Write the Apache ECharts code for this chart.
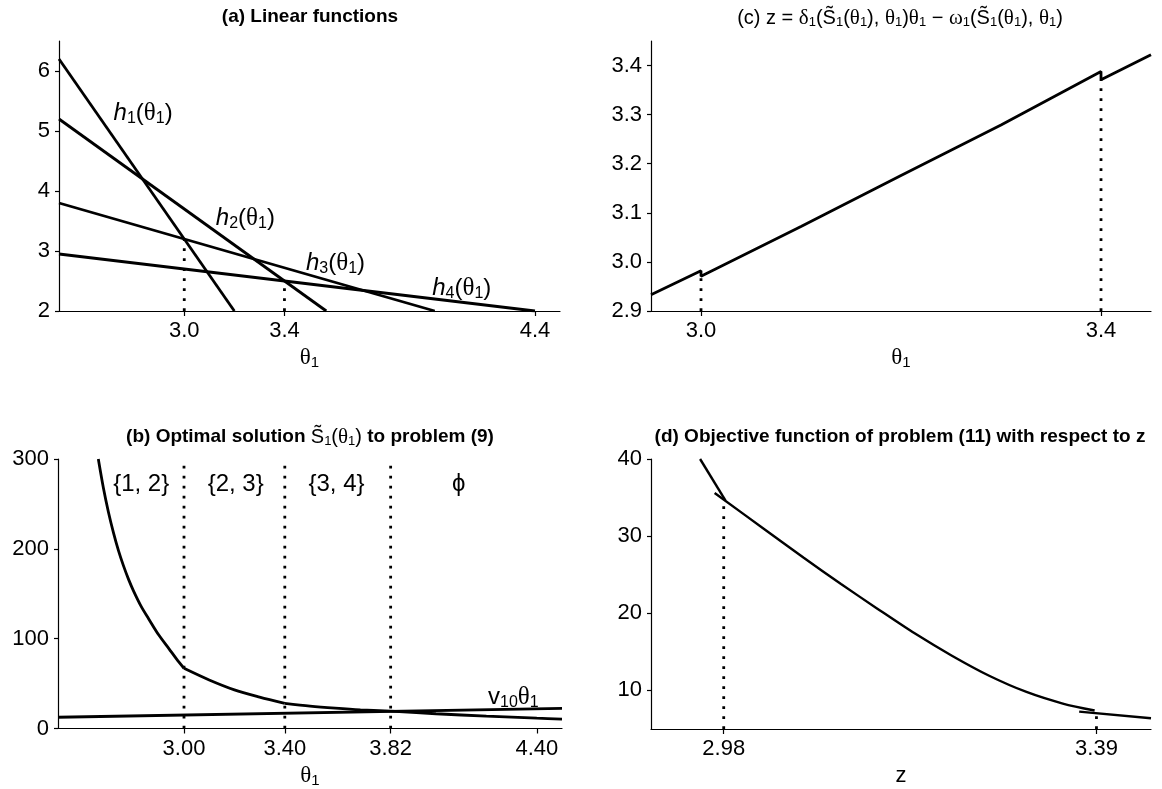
<!DOCTYPE html>
<html>
<head>
<meta charset="utf-8">
<script src="https://cdn.jsdelivr.net/npm/echarts@6/dist/echarts.min.js"></script>
<style>
html, body { margin: 0; padding: 0; background: #fff; }
#main { width: 1162px; height: 789px; }
</style>
</head>
<body>
<div id="main"></div>
<script>
// ---- data ----
// (a) linear functions h_k(theta1)
var thetaTicksA = [3.0, 3.4, 4.4];
var yTicksA = [2, 3, 4, 5, 6];
var h1 = [[2.5, 6.2], [3.2, 2.0]];
var h2 = [[2.5, 5.2], [3.567, 2.0]];
var h3 = [[2.5, 3.8], [4.0, 2.0]];
var h4 = [[2.5, 2.95], [4.4, 2.0]];
var breaksA = [[3.0, 3.2], [3.4, 2.5]];   // theta, top of dotted line

// (b) optimal solution S1(theta1), one array per region
var s1Seg1 = [[2.66, 300], [2.68, 268], [2.70, 241], [2.72, 218], [2.74, 198], [2.76, 181], [2.78, 166],
              [2.80, 153], [2.83, 136], [2.86, 122], [2.90, 104], [2.94, 89], [2.97, 77.5], [3.00, 67]];
var s1Seg2 = [[3.00, 67], [3.10, 54], [3.20, 43], [3.30, 35], [3.40, 28]];
var s1Seg3 = [[3.40, 28], [3.50, 25], [3.60, 22.7], [3.70, 20.8], [3.82, 19.3]];
var s1Seg4 = [[3.82, 19.3], [4.00, 16.4], [4.20, 13.8], [4.40, 11.5], [4.50, 10.4]];
var thetaTicksB = [3.00, 3.40, 3.82, 4.40];
var yTicksB = [0, 100, 200, 300];
var v10Line = [[2.5, 12.5], [4.5, 22.5]];
var breaksB = [3.00, 3.40, 3.82];
var setLabels = ['{1, 2}', '{2, 3}', '{3, 4}', 'ϕ'];
var setLabelTheta = [2.83, 3.205, 3.605, 4.09];

// (c) z as a function of theta1 (jumps at 3.0 and 3.4)
var thetaTicksC = [3.0, 3.4];
var yTicksC = [2.9, 3.0, 3.1, 3.2, 3.3, 3.4];
var zSeg1 = [[2.95, 2.933], [3.0, 2.982]];
var zSeg2 = [[3.0, 2.971], [3.1, 3.072], [3.2, 3.176], [3.3, 3.279], [3.4, 3.388]];
var zSeg3 = [[3.4, 3.371], [3.45, 3.422]];
var breaksC = [[3.0, 2.971], [3.4, 3.371]];

// (d) objective of problem (11) vs z
var zTicksD = [2.98, 3.39];
var yTicksD = [10, 20, 30, 40];
var objSeg1 = [[2.954, 40], [2.982, 34.6]];
var objSeg2 = [[2.970, 35.6], [3.027, 30.7], [3.068, 27.2], [3.109, 23.8], [3.149, 20.6], [3.190, 17.4],
               [3.231, 14.5], [3.272, 11.9], [3.313, 9.8], [3.353, 8.3], [3.388, 7.4]];
var objSeg3 = [[3.371, 7.25], [3.45, 6.4]];
var breaksD = [[2.98, 34.5], [3.39, 7.3]];

// ---- styles ----
var SANS = 'Liberation Sans';
var SERIF = 'Liberation Serif';
var richBig = {
    n: { fontFamily: SANS, fontSize: 24, color: '#000', lineHeight: 26 },
    i: { fontFamily: SANS, fontSize: 24, fontStyle: 'italic', color: '#000', lineHeight: 26 },
    g: { fontFamily: SERIF, fontSize: 25, color: '#000', lineHeight: 26 },
    s: { fontFamily: SANS, fontSize: 16, color: '#000', lineHeight: 17, padding: [11, 0, 0, 0] }
};
var richName = {
    n: { fontFamily: SANS, fontSize: 22, color: '#000', lineHeight: 24 },
    g: { fontFamily: SERIF, fontSize: 23, color: '#000', lineHeight: 24 },
    s: { fontFamily: SANS, fontSize: 15, color: '#000', lineHeight: 16, padding: [10, 0, 0, 0] }
};
var richTitle = {
    b: { fontFamily: SANS, fontSize: 19, fontWeight: 'bold', color: '#000', lineHeight: 20 },
    r: { fontFamily: SANS, fontSize: 20, color: '#000', lineHeight: 22 },
    rg: { fontFamily: SERIF, fontSize: 21, color: '#000', lineHeight: 22 },
    rs: { fontFamily: SANS, fontSize: 13, color: '#000', lineHeight: 14, padding: [8, 0, 0, 0] }
};

var grids = [
    { left: 59, top: 41, width: 501, height: 270 },   // a
    { left: 58, top: 459, width: 504, height: 270 },  // b
    { left: 651, top: 41, width: 500, height: 270 },  // c
    { left: 651, top: 459, width: 500, height: 270 }  // d
];

function xAx(idx, min, max, ticks, dec, name) {
    return {
        gridIndex: idx, type: 'value', min: min, max: max,
        axisLine: { show: true, onZero: false, lineStyle: { color: '#000', width: 1.2 } },
        axisTick: { show: true, customValues: ticks, length: 5, lineStyle: { color: '#000', width: 1.2 } },
        axisLabel: { customValues: ticks, formatter: function (v) { return v.toFixed(dec); },
                     fontFamily: SANS, fontSize: 22, color: '#000', margin: 9 },
        splitLine: { show: false },
        name: name, nameLocation: 'middle', nameGap: 35, nameTextStyle: { rich: richName }
    };
}
function yAx(idx, min, max, ticks, dec) {
    return {
        gridIndex: idx, type: 'value', min: min, max: max,
        axisLine: { show: true, onZero: false, lineStyle: { color: '#000', width: 1.2 } },
        axisTick: { show: true, customValues: ticks, length: 4, lineStyle: { color: '#000', width: 1.2 } },
        axisLabel: { customValues: ticks, formatter: function (v) { return v.toFixed(dec); },
                     fontFamily: SANS, fontSize: 22, color: '#000', margin: 9 },
        splitLine: { show: false }
    };
}

function solid(idx, data, w, smooth) {
    return { type: 'line', xAxisIndex: idx, yAxisIndex: idx, data: data, symbol: 'none',
             smooth: smooth || false,
             lineStyle: { color: '#000', width: w || 2.8 }, silent: true };
}
function dotted(idx, x, y0, y1) {
    return { type: 'line', xAxisIndex: idx, yAxisIndex: idx, data: [[x, y0], [x, y1]], symbol: 'none',
             lineStyle: { color: '#000', width: 2.8, type: [2.8, 7.2], cap: 'butt' }, silent: true };
}
function labels(idx, items) {
    return { type: 'scatter', xAxisIndex: idx, yAxisIndex: idx, symbolSize: 0, silent: true,
             itemStyle: { opacity: 1 },
             data: items, label: { show: true, position: 'inside', rich: richBig, opacity: 1,
             fontFamily: SANS, fontSize: 24, color: '#000', formatter: function (p) { return p.name; } } };
}

var series = [];
// (a)
[h1, h2, h3, h4].forEach(function (d) { series.push(solid(0, d)); });
breaksA.forEach(function (b) { series.push(dotted(0, b[0], 2, b[1])); });
series.push(labels(0, [
    { name: '{i|h}{s|1}{n|(}{g|θ}{s|1}{n|)}', value: [2.836, 5.3] },
    { name: '{i|h}{s|2}{n|(}{g|θ}{s|1}{n|)}', value: [3.244, 3.55] },
    { name: '{i|h}{s|3}{n|(}{g|θ}{s|1}{n|)}', value: [3.604, 2.8] },
    { name: '{i|h}{s|4}{n|(}{g|θ}{s|1}{n|)}', value: [4.108, 2.38] }
]));
// (b)
breaksB.forEach(function (b) { series.push(dotted(1, b, 0, 300)); });
[s1Seg1, s1Seg2, s1Seg3, s1Seg4].forEach(function (d) { series.push(solid(1, d, 2.8, 0.3)); });
series.push(solid(1, v10Line));
series.push(labels(1, setLabels.map(function (s, k) {
    return { name: s, value: [setLabelTheta[k], 272] };
}).concat([{ name: '{n|v}{s|10}{g|θ}{s|1}', value: [4.307, 35] }])));
// (c): the jumps are drawn as short vertical steps
breaksC.forEach(function (b) { series.push(dotted(2, b[0], 2.9, b[1])); });
series.push(solid(2, zSeg1.concat(zSeg2, zSeg3)));
// (d)
breaksD.forEach(function (b) { series.push(dotted(3, b[0], 5, b[1])); });
series.push(solid(3, objSeg1, 2.4));
series.push(solid(3, objSeg2, 2.4, 0.3));
series.push(solid(3, objSeg3, 2.4));

var titles = [
    { x: 310, y: 17, text: '{b|(a) Linear functions}' },
    { x: 310, y: 437, text: '{b|(b) Optimal solution }{r|S\u0303}{rs|1}{r|(}{rg|θ}{rs|1}{r|)}{b| to problem (9)}' },
    { x: 900, y: 18, text: '{r|(c) z = }{rg|δ}{rs|1}{r|(S\u0303}{rs|1}{r|(}{rg|θ}{rs|1}{r|), }{rg|θ}{rs|1}{r|)}{rg|θ}{rs|1}{r| − }{rg|ω}{rs|1}{r|(S\u0303}{rs|1}{r|(}{rg|θ}{rs|1}{r|), }{rg|θ}{rs|1}{r|)}' },
    { x: 900, y: 437, text: '{b|(d) Objective function of problem (11) with respect to z}' }
];

var chart = echarts.init(document.getElementById('main'));
chart.setOption({
    animation: false,
    backgroundColor: '#fff',
    grid: grids,
    xAxis: [
        xAx(0, 2.5, 4.5, thetaTicksA, 1, '{g|θ}{s|1}'),
        xAx(1, 2.5, 4.5, thetaTicksB, 2, '{g|θ}{s|1}'),
        xAx(2, 2.95, 3.45, thetaTicksC, 1, '{g|θ}{s|1}'),
        xAx(3, 2.9, 3.45, zTicksD, 2, '{n|z}')
    ],
    yAxis: [
        yAx(0, 2, 6.5, yTicksA, 0),
        yAx(1, 0, 300, yTicksB, 0),
        yAx(2, 2.9, 3.45, yTicksC, 1),
        yAx(3, 5, 40, yTicksD, 0)
    ],
    graphic: titles.map(function (t) {
        return { type: 'text', x: t.x, y: t.y, silent: true,
                 style: { text: t.text, rich: richTitle, align: 'center', verticalAlign: 'middle',
                          textAlign: 'center', textVerticalAlign: 'middle', fill: '#000' } };
    }),
    series: series
});
</script>
</body>
</html>
